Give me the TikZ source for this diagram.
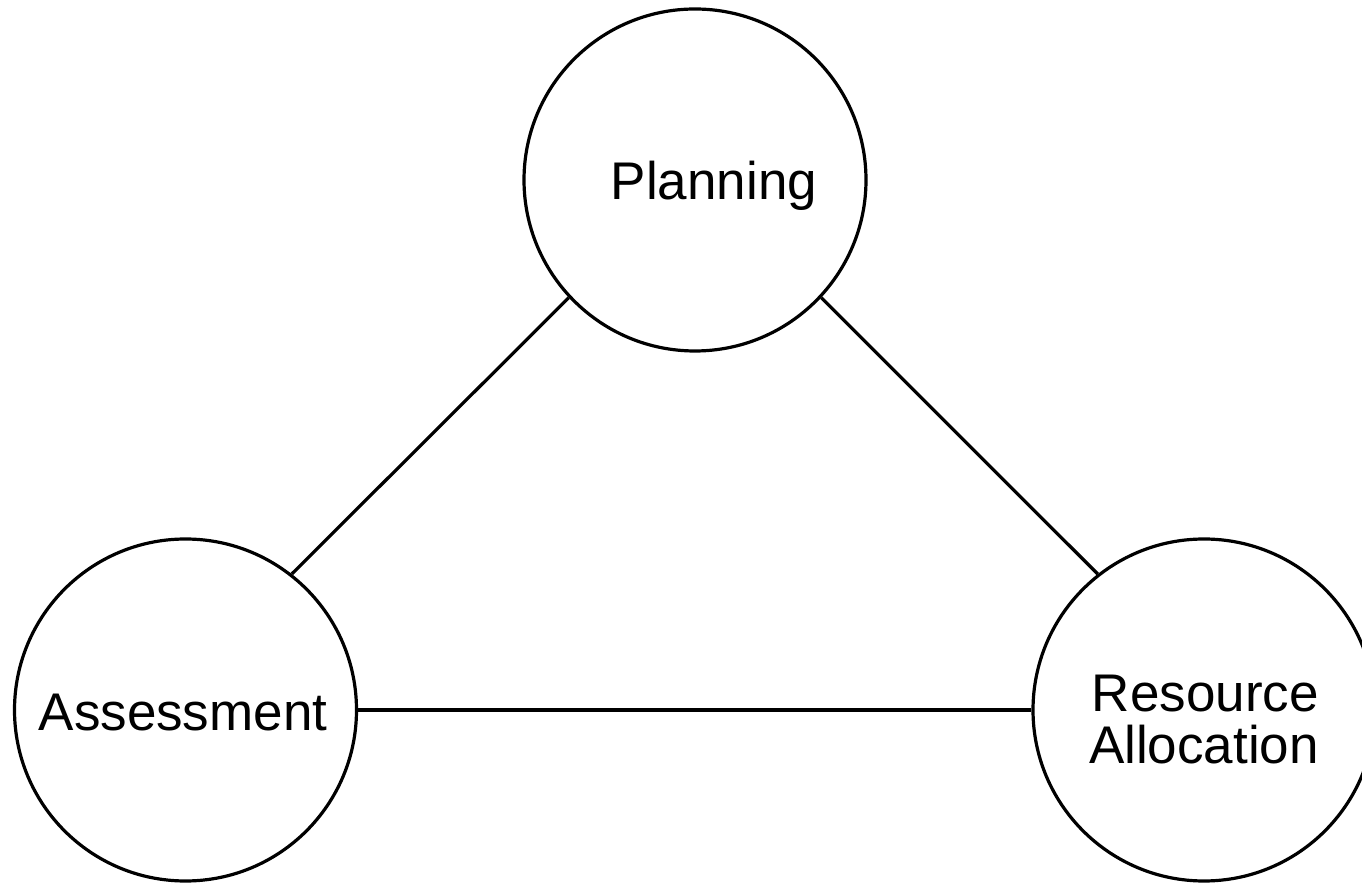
\documentclass[tikz,border=0pt]{standalone}
\usepackage{fontspec}
\setmainfont{Liberation Sans}
\begin{document}
\begin{tikzpicture}[x=1pt,y=1pt,
  bubble/.style={draw=black, line width=3.2pt, circle, minimum size=342pt, inner sep=0pt},
  lbl/.style={anchor=base, inner sep=0pt, font=\fontsize{53}{53}\selectfont},
  link/.style={draw=black, line width=3.2pt}]
\useasboundingbox (0,0) rectangle (1362,883);
\node[bubble] (P) at (695,703) {};
\node[bubble] (A) at (185.5,173) {};
\node[bubble] (R) at (1204,173) {};
\node[lbl] (Pt) at (714,683.7) {Planning};
\node[lbl] (At) at (183,152.3) {Assessment};
\node[lbl] (R1) at (1205.3,171.3) {Resource};
\node[lbl] (R2) at (1204,119.7) {Allocation};
\draw[link] (P.223) -- (A.52);
\draw[link] (P.317) -- (R.128);
\draw[link] (A.east) -- (R.west);
\end{tikzpicture}
\end{document}
